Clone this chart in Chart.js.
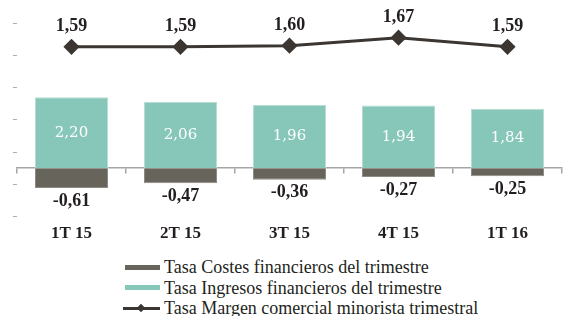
<!DOCTYPE html>
<html>
<head>
<meta charset="utf-8">
<script src="https://cdn.jsdelivr.net/npm/chart.js@4.4.1/dist/chart.umd.min.js"></script>
<style>
  html, body { margin: 0; padding: 0; background: #fff; }
  #wrap { position: relative; width: 571px; height: 316px; }
  #legend { list-style: none; margin: 0; padding: 0; position: absolute; left: 123px; top: 257px;
            font-family: "Liberation Serif", serif; font-size: 18px; color: #231f20; }
  #legend li { height: 20.6px; line-height: 20.6px; display: flex; align-items: center; white-space: nowrap; }
  #legend .sw { width: 35px; height: 5px; margin: 0 4px 0 2px; }
  #legend .ln { position: relative; width: 37px; height: 3px; margin-right: 4px; }
  #legend .ln span { position: absolute; left: 15px; top: -2px; width: 6px; height: 6px; transform: rotate(45deg); }
</style>
</head>
<body>
<div id="wrap">
  <canvas id="chart" width="571" height="243"></canvas>
  <ul id="legend"></ul>
</div>
<script>
var quarters = ['1T 15', '2T 15', '3T 15', '4T 15', '1T 16'];
var costes = [-0.61, -0.47, -0.36, -0.27, -0.25];
var ingresos = [2.20, 2.06, 1.96, 1.94, 1.84];
var margen = [1.59, 1.59, 1.60, 1.67, 1.59];
var barTicks = [-1.5, -0.5, 0.5, 1.5, 2.5, 3.5, 4.5];

var textColor = '#231f20';

function fmt(v) {
  return v.toFixed(2).replace('.', ',');
}

// values drawn next to bars and points
const valueLabels = {
  id: 'valueLabels',
  afterDatasetsDraw(chart) {
    const ctx = chart.ctx;
    ctx.save();
    ctx.textAlign = 'center';
    ctx.textBaseline = 'middle';
    chart.data.datasets.forEach((ds, i) => {
      const meta = chart.getDatasetMeta(i);
      meta.data.forEach((el, j) => {
        const v = ds.data[j];
        if (ds.type === 'line') {
          ctx.font = 'bold 18px "Liberation Serif"';
          ctx.fillStyle = textColor;
          ctx.fillText(fmt(v), el.x, el.y - 20);
        } else if (v < 0) {
          ctx.font = 'bold 18px "Liberation Serif"';
          ctx.fillStyle = textColor;
          ctx.fillText(fmt(v), el.x, el.y + 13);
        } else {
          ctx.font = '15px "DejaVu Serif"';
          ctx.fillStyle = '#ffffff';
          ctx.fillText(fmt(v), el.x, (el.y + el.base) / 2);
        }
      });
    });
    ctx.restore();
  }
};

// legend as html list, one item per row
const htmlLegend = {
  id: 'htmlLegend',
  afterUpdate(chart) {
    const ul = document.getElementById('legend');
    ul.innerHTML = '';
    const items = chart.options.plugins.legend.labels.generateLabels(chart);
    items.forEach(item => {
      const ds = chart.data.datasets[item.datasetIndex];
      const li = document.createElement('li');
      const mark = document.createElement('span');
      if (ds.type === 'line') {
        mark.className = 'ln';
        mark.style.background = ds.borderColor;
        const d = document.createElement('span');
        d.style.background = ds.borderColor;
        mark.appendChild(d);
      } else {
        mark.className = 'sw';
        mark.style.background = ds.backgroundColor;
      }
      li.appendChild(mark);
      li.appendChild(document.createTextNode(item.text));
      ul.appendChild(li);
    });
  }
};

const chart = new Chart(document.getElementById('chart'), {
  data: {
    labels: quarters,
    datasets: [
      {
        type: 'bar',
        label: 'Tasa Costes financieros del trimestre',
        data: costes,
        backgroundColor: '#67655b',
        borderColor: '#8e8c84',
        borderWidth: 1,
        barPercentage: 0.67,
        categoryPercentage: 1,
        yAxisID: 'y'
      },
      {
        type: 'bar',
        label: 'Tasa Ingresos financieros del trimestre',
        data: ingresos,
        backgroundColor: '#86c7b9',
        borderColor: '#b5ddd4',
        borderWidth: 1,
        barPercentage: 0.67,
        categoryPercentage: 1,
        yAxisID: 'y'
      },
      {
        type: 'line',
        label: 'Tasa Margen comercial minorista trimestral',
        data: margen,
        borderColor: '#3b3632',
        backgroundColor: '#3b3632',
        borderWidth: 3,
        pointStyle: 'rectRot',
        pointRadius: 6,
        pointHoverRadius: 6,
        tension: 0,
        yAxisID: 'y2'
      }
    ]
  },
  options: {
    responsive: false,
    animation: false,
    layout: { padding: { left: 13, right: 1, top: 23, bottom: 0 } },
    plugins: {
      legend: { display: false },
      tooltip: { enabled: false }
    },
    scales: {
      x: {
        stacked: true,
        offset: true,
        grid: { display: false },
        border: { display: false },
        ticks: {
          color: textColor,
          font: { family: 'Liberation Serif', size: 17, weight: 'bold' },
          padding: -1,
          maxRotation: 0,
          autoSkip: false
        }
      },
      xz: {
        type: 'category',
        position: { y: 0 },
        offset: true,
        grid: { offset: true, drawOnChartArea: false, tickLength: 5, color: '#a6a6a6', lineWidth: 1.5 },
        border: { display: true, color: '#a6a6a6', width: 1.5 },
        ticks: { display: false }
      },
      y: {
        stacked: true,
        min: -1.5,
        max: 4.5,
        afterBuildTicks: (axis) => {
          axis.ticks = barTicks.map(v => ({ value: v }));
        },
        grid: { drawOnChartArea: false, tickLength: 4, color: '#aeadc8' },
        border: { display: false },
        ticks: { display: false }
      },
      y2: {
        display: false,
        min: 0.09,
        max: 1.80
      }
    }
  },
  plugins: [valueLabels, htmlLegend]
});
</script>
</body>
</html>
